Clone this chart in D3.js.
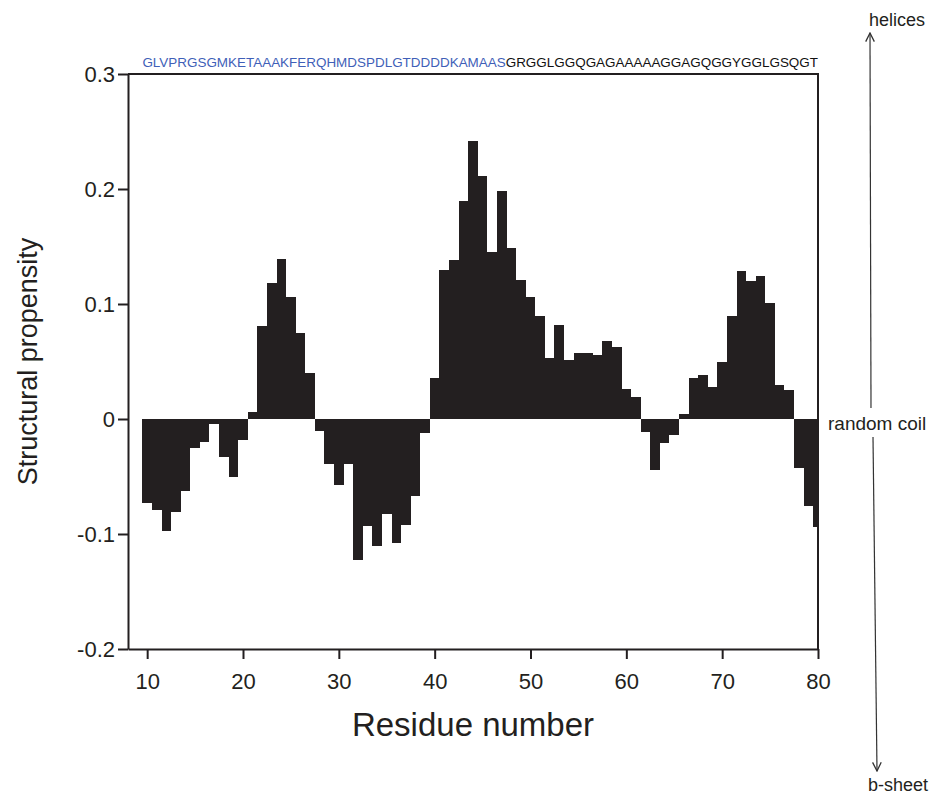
<!DOCTYPE html>
<html lang="en">
<meta charset="UTF-8">
<title>Structural propensity</title>
<style>
body {margin:0; background:#fff;}
svg text {font-family: "Liberation Sans", Arial, sans-serif;}
</style>
<body>
<div id="my_dataviz"></div>
<script src="https://d3js.org/d3.v7.min.js"></script>
<script>
// residue numbers shown on the x axis
var residues = [10,11,12,13,14,15,16,17,18,19,20,21,22,23,24,25,26,27,28,29,
  30,31,32,33,34,35,36,37,38,39,40,41,42,43,44,45,46,47,48,49,
  50,51,52,53,54,55,56,57,58,59,60,61,62,63,64,65,66,67,68,69,
  70,71,72,73,74,75,76,77,78,79,80];

// structural propensity per residue
var propensity = [-0.073,-0.079,-0.097,-0.081,-0.063,-0.025,-0.020,-0.004,-0.033,-0.050,
  -0.018,0.006,0.081,0.118,0.139,0.106,0.075,0.040,-0.010,-0.039,
  -0.057,-0.039,-0.123,-0.093,-0.110,-0.083,-0.108,-0.092,-0.067,-0.012,
  0.036,0.130,0.138,0.190,0.242,0.211,0.145,0.198,0.149,0.121,
  0.106,0.090,0.053,0.082,0.051,0.057,0.057,0.056,0.068,0.063,
  0.026,0.019,-0.011,-0.044,-0.021,-0.014,0.004,0.036,0.038,0.028,
  0.050,0.090,0.129,0.120,0.124,0.101,0.030,0.025,-0.043,-0.076,-0.094];

var xTicks = [10,20,30,40,50,60,70,80];
var yTicks = [-0.2,-0.1,0,0.1,0.2,0.3];
var yTickLabels = ["-0.2","-0.1","0","0.1","0.2","0.3"];

// sequence printed above the plot (blue part, then black part)
var seqBlue = "GLVPRGSGMKETAAAKFERQHMDSPDLGTDDDDKAMAAS";
var seqBlack = "GRGGLGGQGAGAAAAAGGAGQGGYGGLGSQGT";

var margin = {left: 128, right: 818, top: 74, bottom: 649},
    W = 931, H = 794,
    ink = "#231f20";

var svg = d3.select("#my_dataviz")
  .append("svg")
    .attr("width", W)
    .attr("height", H);

var x = d3.scaleLinear().domain([8, 80]).range([margin.left, margin.right]);
var y = d3.scaleLinear().domain([-0.2, 0.3]).range([margin.bottom, margin.top]);

// bars, one residue wide, centred on the residue number
svg.append("g")
  .selectAll("rect")
  .data(residues)
  .enter().append("rect")
    .attr("x", function(d){ return x(d - 0.5); })
    .attr("width", function(d){ return Math.min(x(d + 0.5), x(80)) - x(d - 0.5); })
    .attr("y", function(d, i){ return y(Math.max(0, propensity[i])); })
    .attr("height", function(d, i){ return Math.abs(y(propensity[i]) - y(0)); })
    .attr("fill", ink)
    .attr("shape-rendering", "crispEdges");

// y axis
var yAxis = svg.append("g")
  .attr("transform", "translate(" + margin.left + ",0)")
  .call(d3.axisLeft(y).tickValues(yTicks).tickSize(10).tickSizeOuter(0).tickPadding(3)
    .tickFormat(function(d, i){ return yTickLabels[i]; }));

// x axis
var xAxis = svg.append("g")
  .attr("transform", "translate(0," + margin.bottom + ")")
  .call(d3.axisBottom(x).tickValues(xTicks).tickSize(10).tickSizeOuter(0).tickPadding(14));

[yAxis, xAxis].forEach(function(a){
  a.select(".domain").attr("stroke", ink).attr("stroke-width", 2);
  a.selectAll(".tick line").attr("stroke", ink).attr("stroke-width", 2);
  a.selectAll(".tick text").attr("fill", ink).style("font-size", "22px");
});

// top and right frame
svg.append("path")
  .attr("d", "M" + margin.left + "," + margin.top + "H" + margin.right + "V" + margin.bottom)
  .attr("fill", "none")
  .attr("stroke", ink)
  .attr("stroke-width", 2);

// axis titles
svg.append("text")
  .attr("x", (margin.left + margin.right) / 2)
  .attr("y", 736)
  .attr("text-anchor", "middle")
  .style("font-size", "33px")
  .attr("fill", ink)
  .text("Residue number");

svg.append("text")
  .attr("transform", "translate(37," + ((margin.top + margin.bottom) / 2) + ") rotate(-90)")
  .attr("text-anchor", "middle")
  .style("font-size", "27px")
  .attr("fill", ink)
  .text("Structural propensity");

// sequence line, one letter per residue
var seq = svg.append("text")
  .attr("x", x(9.5))
  .attr("y", 67)
  .attr("textLength", x(80) - x(9.5))
  .attr("lengthAdjust", "spacingAndGlyphs")
  .style("font-size", "13px");
seq.append("tspan").attr("fill", "#3f5fb8").text(seqBlue);
seq.append("tspan").attr("fill", "#111").text(seqBlack);

// right hand annotation
svg.append("defs").append("marker")
    .attr("id", "arr")
    .attr("viewBox", "0 0 10 10")
    .attr("refX", 9).attr("refY", 5)
    .attr("markerWidth", 9).attr("markerHeight", 9)
    .attr("orient", "auto")
  .append("path")
    .attr("d", "M1,1 L9,5 L1,9")
    .attr("fill", "none")
    .attr("stroke", "#333")
    .attr("stroke-width", 1.2);

svg.append("line")
  .attr("x1", 871).attr("y1", 408).attr("x2", 870).attr("y2", 33)
  .attr("stroke", "#333").attr("stroke-width", 1.2)
  .attr("marker-end", "url(#arr)");
svg.append("line")
  .attr("x1", 873).attr("y1", 437).attr("x2", 877).attr("y2", 771)
  .attr("stroke", "#333").attr("stroke-width", 1.2)
  .attr("marker-end", "url(#arr)");

svg.append("text").attr("x", 897).attr("y", 26).attr("text-anchor", "middle")
  .style("font-size", "18px").attr("fill", ink).text("helices");
svg.append("text").attr("x", 828).attr("y", 430)
  .style("font-size", "19px").attr("fill", ink).text("random coil");
svg.append("text").attr("x", 898).attr("y", 791).attr("text-anchor", "middle")
  .style("font-size", "18px").attr("fill", ink).text("b-sheet");
</script>
</body>
</html>
